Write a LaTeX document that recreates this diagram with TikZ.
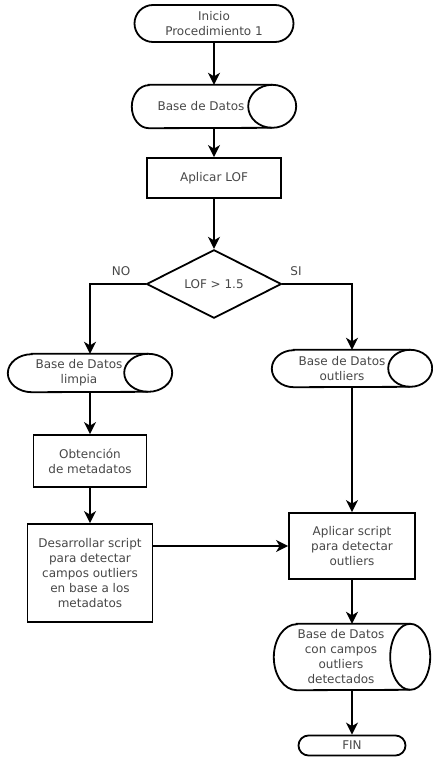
\documentclass[tikz,border=0pt]{standalone}
\usepackage{fontspec}
\setmainfont{DejaVu Sans}
\usetikzlibrary{shapes.misc,shapes.geometric,arrows.meta}
\tikzset{
  line/.style={line width=1.8pt, draw=black},
  arr/.style={line, -{Stealth[length=12pt,width=12pt,inset=3.5pt]}},
  txt/.style={text=black!72, font=\fontsize{12}{15}\selectfont, align=center, inner sep=0pt},
  terminal/.style={rounded rectangle, line, txt},
  procbox/.style={rectangle, line, txt},
  decision/.style={diamond, line, txt},
  hidden/.style={rectangle, draw=none, inner sep=0pt},
}
% #1 name, #2 centre, #3 width, #4 height, #5 left radius, #6 right radius, #7 text shift, #8 text
\newcommand\sdshape[8]{%
  \node[hidden, minimum width=#3, minimum height=#4] (#1) at #2 {};
  \draw[line] ([xshift=#5]#1.north west) -- ([xshift=-#6]#1.north east)
     arc[start angle=90, end angle=-90, x radius=#6, y radius=#4/2]
     -- ([xshift=#5]#1.south west)
     arc[start angle=270, end angle=90, x radius=#5, y radius=#4/2] -- cycle;
  \draw[line] ([xshift=-#6]#1.north east)
     arc[start angle=90, end angle=270, x radius=#6, y radius=#4/2];
  \node[txt] (#1t) at ([xshift=#7]#1.center) {#8};
}
\begin{document}
\begin{tikzpicture}[x=1pt,y=1pt]
\useasboundingbox (0,0) rectangle (432,-757);

\node[terminal, minimum width=159pt, minimum height=37pt] (start) at (214,-23.5) {Inicio\\Procedimiento 1};
\sdshape{bd1}{(214,-106.5)}{164pt}{43pt}{17pt}{24pt}{-13pt}{Base de Datos}
\node[procbox, minimum width=134pt, minimum height=40pt] (lof) at (214,-178) {Aplicar LOF};
\node[decision, minimum width=135pt, minimum height=66pt] (dec) at (214,-284) {LOF > 1.5};
\node[txt] (lblno) at (121,-271) {NO};
\node[txt] (lblsi) at (296,-271) {SI};

\sdshape{limpia}{(90,-373)}{164pt}{38pt}{24pt}{24pt}{-11pt}{Base de Datos\\limpia}
\sdshape{outl}{(352,-368.5)}{160pt}{37pt}{22pt}{22pt}{-10pt}{Base de Datos\\outliers}

\node[procbox, minimum width=113pt, minimum height=52pt] (obt) at (90,-461) {Obtención\\de metadatos};
\node[procbox, minimum width=125pt, minimum height=98pt] (des) at (90,-573) {Desarrollar script\\para detectar\\campos outliers\\en base a los\\metadatos};
\node[procbox, minimum width=126pt, minimum height=66pt] (aps) at (352,-546) {Aplicar script\\para detectar\\outliers};

\sdshape{final}{(352,-657)}{156pt}{66pt}{23pt}{20pt}{-11pt}{Base de Datos\\con campos\\outliers\\detectados}
\node[terminal, minimum width=107pt, minimum height=20pt] (fin) at (352,-745.5) {FIN};

\draw[arr] (start) -- (bd1);
\draw[arr] (bd1) -- (lof);
\draw[arr] (lof) -- (dec);
\draw[arr] (dec.west) -| (limpia);
\draw[arr] (dec.east) -| (outl);
\draw[arr] (limpia) -- (obt);
\draw[arr] (obt) -- (des);
\draw[arr] (des.east |- aps.west) -- (aps.west);
\draw[arr] (outl) -- (aps);
\draw[arr] (aps) -- (final);
\draw[arr] (final) -- (fin);
\end{tikzpicture}
\end{document}
